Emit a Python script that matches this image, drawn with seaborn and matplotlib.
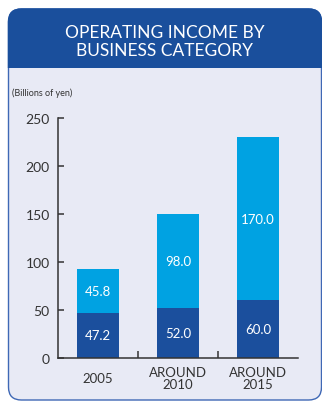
import matplotlib
matplotlib.use("Agg")
import matplotlib.pyplot as plt
from matplotlib.patches import FancyBboxPatch, Rectangle
import seaborn as sns
import pandas as pd

# Data (billions of yen)
categories = ["2005", "AROUND\n2010", "AROUND\n2015"]
lower_values = [47.2, 52.0, 60.0]
upper_values = [45.8, 98.0, 170.0]
y_ticks = [0, 50, 100, 150, 200, 250]

DARK = "#1b4f9d"
LIGHT = "#00a2e2"
HEADER = "#1a4f9c"
PANEL = "#e8eaf5"
BORDER = "#3f68b5"
INK = "#333333"

sns.set_theme(style="white")
plt.rcParams["font.family"] = ["Lato", "DejaVu Sans"]

W, H = 322, 402
fig = plt.figure(figsize=(W / 100, H / 100), dpi=100)
fig.patch.set_facecolor("white")

# Rounded panel with header band
def px(x, y):
    return x / W, 1 - y / H

x0, y0 = px(8.5, 10)
x1, y1 = px(321.5, 401)
panel = FancyBboxPatch((x0, y1), x1 - x0, y0 - y1,
                       boxstyle="round,pad=0,rounding_size=0.04",
                       transform=fig.transFigure, facecolor=PANEL,
                       edgecolor=BORDER, linewidth=1.0, zorder=-3,
                       mutation_aspect=W / H)
fig.patches.append(panel)
header = FancyBboxPatch((x0, y1), x1 - x0, y0 - y1,
                        boxstyle="round,pad=0,rounding_size=0.04",
                        transform=fig.transFigure, facecolor=HEADER,
                        edgecolor=HEADER, linewidth=1.0, zorder=-2,
                        mutation_aspect=W / H)
hx, hy = px(0, 69)
clip = Rectangle((0, hy), 1, 1 - hy, transform=fig.transFigure)
header.set_clip_path(clip)
fig.patches.append(header)

fig.text(165 / W, 1 - 42 / H, "OPERATING INCOME BY\nBUSINESS CATEGORY",
         ha="center", va="center", color="white", fontsize=12.5,
         linespacing=1.1, zorder=3)
fig.text(12 / W, 1 - 93 / H, "(Billions of yen)", ha="left", va="center",
         color=INK, fontsize=6.5, zorder=3)

# Axes
ax = fig.add_axes([58 / W, (H - 359) / H, 240 / W, 240 / H])
ax.set_facecolor("none")

df = pd.DataFrame({
    "category": categories,
    "lower": lower_values,
    "upper": upper_values,
})
df["total"] = df["lower"] + df["upper"]

sns.barplot(data=df, x="category", y="total", color=LIGHT, saturation=1,
            width=0.525, linewidth=0, ax=ax, zorder=2)
sns.barplot(data=df, x="category", y="lower", color=DARK, saturation=1,
            width=0.525, linewidth=0, ax=ax, zorder=3)

for i, (lo, up) in enumerate(zip(lower_values, upper_values)):
    ax.text(i, lo / 2, f"{lo:.1f}", ha="center", va="center",
            color="white", fontsize=9.5, zorder=4)
    ax.text(i, lo + up / 2, f"{up:.1f}", ha="center", va="center",
            color="white", fontsize=9.5, zorder=4)

ax.set_xlim(-0.5, 2.5)
ax.set_ylim(0, 250)
ax.set_yticks(y_ticks)
ax.set_xlabel("")
ax.set_ylabel("")

for s in ["top", "right"]:
    ax.spines[s].set_visible(False)
for s in ["left", "bottom"]:
    ax.spines[s].set_color(INK)
    ax.spines[s].set_linewidth(1.1)
    ax.spines[s].set_zorder(5)

ax.tick_params(axis="y", direction="in", length=4, width=1.1, color=INK,
               labelcolor=INK, labelsize=10, pad=6, left=True)
ax.set_xticks([0, 1, 2])
ax.set_xticklabels(categories)
ax.set_xticks([0.5, 1.5], minor=True)
ax.tick_params(axis="x", which="major", length=0, labelcolor=INK,
               labelsize=9.5, pad=14.5)
ax.tick_params(axis="x", which="minor", direction="in", length=5,
               width=1.1, color=INK, bottom=True)
for lab in ax.get_xticklabels():
    lab.set_va("center")
    lab.set_linespacing(1.05)

fig.savefig("out.png", dpi=100)
